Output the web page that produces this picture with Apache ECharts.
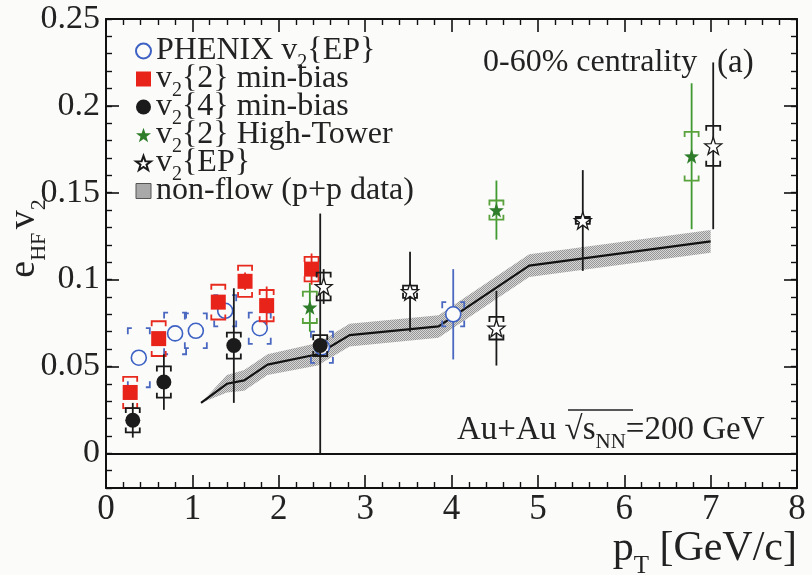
<!DOCTYPE html>
<html>
<head>
<meta charset="utf-8">
<script src="https://cdn.jsdelivr.net/npm/echarts@6/dist/echarts.min.js"></script>
<style>
html, body { margin: 0; padding: 0; background: #fbfbfa; }
#chart { width: 812px; height: 575px; }
</style>
</head>
<body>
<div id="chart"></div>
<script>
// axis ticks
var yTicks = [0, 0.05, 0.1, 0.15, 0.2, 0.25];
var yTickLabels = ['0', '0.05', '0.1', '0.15', '0.2', '0.25'];

// PHENIX v2{EP}
var phenixPt = [0.38, 0.80, 1.04, 1.38, 1.78, 2.50, 4.02];
var phenixV = [0.055, 0.069, 0.0705, 0.082, 0.072, 0.061, 0.080];
var phenixStat = [0.002, 0.002, 0.002, 0.003, 0.003, 0.004, 0.026];
var phenixSys = [0.017, 0.012, 0.010, 0.009, 0.009, 0.009, 0.007];

// v2{2} min-bias
var mb2Pt = [0.28, 0.61, 1.30, 1.61, 1.86, 2.38];
var mb2V = [0.035, 0.066, 0.087, 0.099, 0.085, 0.106];
var mb2Stat = [0.003, 0.003, 0.004, 0.005, 0.011, 0.009];
var mb2Sys = [0.009, 0.010, 0.010, 0.009, 0.009, 0.007];

// v2{4} min-bias
var mb4Pt = [0.31, 0.67, 1.48, 2.48];
var mb4V = [0.019, 0.041, 0.062, 0.062];
var mb4StatLo = [0.010, 0.016, 0.033, 0.062];
var mb4StatHi = [0.010, 0.016, 0.033, 0.076];
var mb4Sys = [0.007, 0.009, 0.0075, 0.006];

// v2{2} High-Tower
var htPt = [2.36, 4.52, 6.78];
var htV = [0.084, 0.140, 0.171];
var htStat = [0.014, 0.017, 0.042];
var htSys = [0.009, 0.0055, 0.014];

// v2{EP}
var epPt = [2.52, 3.52, 4.52, 5.52, 7.03];
var epV = [0.096, 0.093, 0.072, 0.134, 0.177];
var epStat = [0.010, 0.023, 0.0215, 0.029, 0.048];
var epSys = [0.008, 0.0035, 0.0065, 0.002, 0.0115];

// non-flow (p+p data)
var nfPt = [1.10, 1.40, 1.60, 1.87, 2.45, 2.82, 3.85, 4.90, 7.00];
var nfV = [0.029, 0.040, 0.042, 0.051, 0.057, 0.068, 0.073, 0.108, 0.122];
var nfErr = [0, 0.005, 0.006, 0.006, 0.0065, 0.0065, 0.0065, 0.0065, 0.0065];

var FONT = 'Liberation Serif';
var INK = '#222';
var STAR = 'path://M10,0L12.35,6.76L19.51,6.91L13.8,11.24L15.88,18.09L10,14L4.12,18.09L6.2,11.24L0.49,6.91L7.65,6.76Z';

var NAMES = ['PHENIX v2{EP}', 'v2{2} min-bias', 'v2{4} min-bias', 'v2{2} High-Tower', 'v2{EP}', 'non-flow (p+p data)'];
var legendText = {};
legendText[NAMES[0]] = 'PHENIX v{s|2}{EP}';
legendText[NAMES[1]] = 'v{s|2}{2} min-bias';
legendText[NAMES[2]] = 'v{s|2}{4} min-bias';
legendText[NAMES[3]] = 'v{s|2}{2} High-Tower';
legendText[NAMES[4]] = 'v{s|2}{EP}';
legendText[NAMES[5]] = 'non-flow (p+p data)';

// subscript style: tiny box pinned to the bottom of the line
function sub(size, h) {
  return { fontFamily: FONT, fontSize: size, color: INK, height: h, verticalAlign: 'bottom' };
}

function pts(xs, ys) {
  return xs.map(function (x, i) { return [x, ys[i]]; });
}

// stat error bar + systematic brackets
function errSeries(pt, v, lo, hi, sys, color, sysColor, kind, z) {
  var data = pt.map(function (p, i) { return [p, v[i], v[i] - lo[i], v[i] + hi[i], sys[i]]; });
  return {
    type: 'custom',
    silent: true,
    z: z,
    data: data,
    encode: { x: 0, y: 1 },
    renderItem: function (params, api) {
      var x = api.value(0), y = api.value(1);
      var c = api.coord([x, y]);
      var top = api.coord([x, api.value(3)]);
      var bot = api.coord([x, api.value(2)]);
      var sT = api.coord([x, y + api.value(4)])[1];
      var sB = api.coord([x, y - api.value(4)])[1];
      var ch = [{
        type: 'line',
        shape: { x1: c[0], y1: top[1], x2: c[0], y2: bot[1] },
        style: { stroke: color, lineWidth: 1.8 }
      }];
      var st = { stroke: sysColor, lineWidth: 1.8, fill: null };
      if (kind === 'phenix') {
        var w = 11, hw = 4, t = 6;
        ch.push(
          { type: 'polyline', shape: { points: [[c[0] - w + hw, sT], [c[0] - w, sT], [c[0] - w, sT + t]] }, style: st },
          { type: 'polyline', shape: { points: [[c[0] + w - hw, sT], [c[0] + w, sT], [c[0] + w, sT + t]] }, style: st },
          { type: 'polyline', shape: { points: [[c[0] - w + hw, sB], [c[0] - w, sB], [c[0] - w, sB - t]] }, style: st },
          { type: 'polyline', shape: { points: [[c[0] + w - hw, sB], [c[0] + w, sB], [c[0] + w, sB - t]] }, style: st }
        );
      } else {
        var w2 = 7, t2 = 5;
        ch.push(
          { type: 'polyline', shape: { points: [[c[0] - w2, sT + t2], [c[0] - w2, sT], [c[0] + w2, sT], [c[0] + w2, sT + t2]] }, style: st },
          { type: 'polyline', shape: { points: [[c[0] - w2, sB - t2], [c[0] - w2, sB], [c[0] + w2, sB], [c[0] + w2, sB - t2]] }, style: st }
        );
      }
      return { type: 'group', children: ch };
    }
  };
}

// stippled grey pattern for the non-flow band
var pat = document.createElement('canvas');
pat.width = 2; pat.height = 2;
var pctx = pat.getContext('2d');
pctx.fillStyle = '#d6d6d6';
pctx.fillRect(0, 0, 2, 2);
pctx.fillStyle = '#979797';
pctx.fillRect(0, 0, 1, 1);
pctx.fillRect(1, 1, 1, 1);

var bandSeries = {
  type: 'custom',
  silent: true,
  z: 1,
  data: [[nfPt[0], nfV[0]]],
  encode: { x: 0, y: 1 },
  renderItem: function (params, api) {
    var up = [], dn = [];
    for (var i = 0; i < nfPt.length; i++) {
      up.push(api.coord([nfPt[i], nfV[i] + nfErr[i]]));
      dn.unshift(api.coord([nfPt[i], nfV[i] - nfErr[i]]));
    }
    return {
      type: 'polygon',
      shape: { points: up.concat(dn) },
      style: { fill: { image: pat, repeat: 'repeat' }, stroke: null }
    };
  }
};

var tickX = { show: true, inside: true, length: 13, lineStyle: { color: '#111', width: 1.6 } };
var minorX = { show: true, splitNumber: 5, length: 6, lineStyle: { color: '#111', width: 1.4 } };
var axisLineK = { show: true, onZero: false, lineStyle: { color: '#111', width: 2 } };

function yMajor(pos, labels) {
  return {
    type: 'value', position: pos, min: -0.02, max: 0.25,
    axisLine: axisLineK,
    axisTick: { show: true, inside: true, length: 13, customValues: yTicks, lineStyle: { color: '#111', width: 1.6 } },
    axisLabel: labels ? {
      show: true, customValues: yTicks, margin: 6,
      formatter: function (val) {
        var k = yTicks.indexOf(val);
        return k >= 0 ? yTickLabels[k] : String(val);
      },
      fontFamily: FONT, fontSize: 34, color: INK
    } : { show: false },
    splitLine: { show: false }
  };
}
function yMinor(pos) {
  return {
    type: 'value', position: pos, min: -0.02, max: 0.25, interval: 0.01,
    axisLine: { show: false, onZero: false },
    axisTick: { show: true, inside: true, length: 6, lineStyle: { color: '#111', width: 1.4 } },
    axisLabel: { show: false },
    splitLine: { show: false }
  };
}

var yName = yMajor('left', true);
yName.name = '{t|e}{s|HF} {t|v}{s|2}';
yName.nameLocation = 'middle';
yName.nameRotate = 90;
yName.nameGap = 63;
yName.nameMoveOverlap = false;
yName.nameTextStyle = {
  padding: [0, 0, 0, 30],
  rich: {
    t: { fontFamily: FONT, fontSize: 38, color: INK },
    s: sub(22, 8)
  }
};

var chart = echarts.init(document.getElementById('chart'), null, { renderer: 'canvas' });
chart.setOption({
  animation: false,
  backgroundColor: '#fbfbfa',
  grid: { left: 106, right: 15, top: 19, bottom: 87, outerBoundsMode: 'none', containLabel: false },
  xAxis: [{
    type: 'value', position: 'bottom', min: 0, max: 8, interval: 1,
    axisLine: axisLineK, axisTick: tickX, minorTick: minorX,
    axisLabel: { margin: 4, fontFamily: FONT, fontSize: 35, color: INK },
    splitLine: { show: false },
    name: 'p{s|T} [GeV/c]', nameLocation: 'end', nameGap: 0, nameMoveOverlap: false,
    nameTextStyle: {
      fontFamily: FONT, fontSize: 42, color: INK, align: 'right', verticalAlign: 'top',
      padding: [40, 0, 0, 0],
      rich: { s: sub(25, 8) }
    }
  }, {
    type: 'value', position: 'top', min: 0, max: 8, interval: 1,
    axisLine: axisLineK, axisTick: tickX, minorTick: minorX,
    axisLabel: { show: false }, splitLine: { show: false }
  }],
  yAxis: [yName, yMinor('left'), yMajor('right', false), yMinor('right')],
  legend: {
    data: [
      { name: NAMES[0], icon: 'circle' },
      { name: NAMES[1], icon: 'rect' },
      { name: NAMES[2], icon: 'circle' },
      { name: NAMES[3], icon: STAR },
      { name: NAMES[4], icon: STAR },
      { name: NAMES[5], icon: 'rect', itemStyle: { color: '#a9a9a9', borderColor: '#555', borderWidth: 1 } }
    ],
    orient: 'vertical', left: 135, top: 35, padding: 0,
    itemWidth: 15, itemHeight: 15, itemGap: -10,
    selectedMode: false,
    formatter: function (name) { return legendText[name]; },
    textStyle: {
      fontFamily: FONT, fontSize: 32, color: INK,
      rich: { s: sub(20, 8) }
    }
  },
  graphic: [
    { type: 'text', x: 483, y: 63, style: { text: '0-60% centrality', font: '32px "Liberation Serif"', fill: INK, verticalAlign: 'middle' } },
    { type: 'text', x: 717, y: 63, style: { text: '(a)', font: '33px "Liberation Serif"', fill: INK, verticalAlign: 'middle' } },
    {
      type: 'text', x: 457, y: 430,
      style: {
        text: 'Au+Au \u221A{s|s}{n|NN}=200 GeV', font: '33px "Liberation Serif"', fill: INK, verticalAlign: 'middle',
        rich: {
          s: { fontFamily: FONT, fontSize: 33, fill: INK },
          n: { fontFamily: FONT, fontSize: 21, fill: INK, height: 8, verticalAlign: 'bottom' }
        }
      }
    },
    { type: 'line', shape: { x1: 568, y1: 410, x2: 633, y2: 410 }, style: { stroke: INK, lineWidth: 1.5 } }
  ],
  series: [
    bandSeries,
    {
      name: NAMES[5], type: 'line', z: 2, data: pts(nfPt, nfV), showSymbol: false, symbol: 'none',
      lineStyle: { color: '#111', width: 2.2 }, itemStyle: { color: '#a9a9a9' },
      markLine: {
        silent: true, symbol: 'none', label: { show: false },
        lineStyle: { color: '#111', width: 2.2, type: 'solid' },
        data: [{ yAxis: 0 }]
      }
    },
    errSeries(phenixPt, phenixV, phenixStat, phenixStat, phenixSys, '#4a68c0', '#4a68c0', 'phenix', 3),
    {
      name: NAMES[0], type: 'scatter', z: 4, data: pts(phenixPt, phenixV), symbol: 'circle', symbolSize: 15,
      itemStyle: { color: '#fbfbfa', borderColor: '#3d62c4', borderWidth: 1.6, opacity: 1 }
    },
    errSeries(mb2Pt, mb2V, mb2Stat, mb2Stat, mb2Sys, '#e82a1e', '#e82a1e', 'star', 5),
    {
      name: NAMES[1], type: 'scatter', z: 6, data: pts(mb2Pt, mb2V), symbol: 'rect', symbolSize: 15,
      itemStyle: { color: '#e8231a', opacity: 1 }
    },
    errSeries(mb4Pt, mb4V, mb4StatLo, mb4StatHi, mb4Sys, '#1a1a1a', '#1a1a1a', 'star', 7),
    {
      name: NAMES[2], type: 'scatter', z: 8, data: pts(mb4Pt, mb4V), symbol: 'circle', symbolSize: 15,
      itemStyle: { color: '#1b1b1b', opacity: 1 }
    },
    errSeries(htPt, htV, htStat, htStat, htSys, '#3f9a2f', '#5aa23c', 'star', 9),
    {
      name: NAMES[3], type: 'scatter', z: 10, data: pts(htPt, htV), symbol: STAR, symbolSize: 15,
      itemStyle: { color: '#2f7d2a', opacity: 1 }
    },
    errSeries(epPt, epV, epStat, epStat, epSys, '#1a1a1a', '#1a1a1a', 'star', 11),
    {
      name: NAMES[4], type: 'scatter', z: 12, data: pts(epPt, epV), symbol: STAR, symbolSize: 17,
      itemStyle: { color: '#ffffff', borderColor: '#1a1a1a', borderWidth: 1.3, opacity: 1 }
    }
  ]
});
</script>
</body>
</html>
